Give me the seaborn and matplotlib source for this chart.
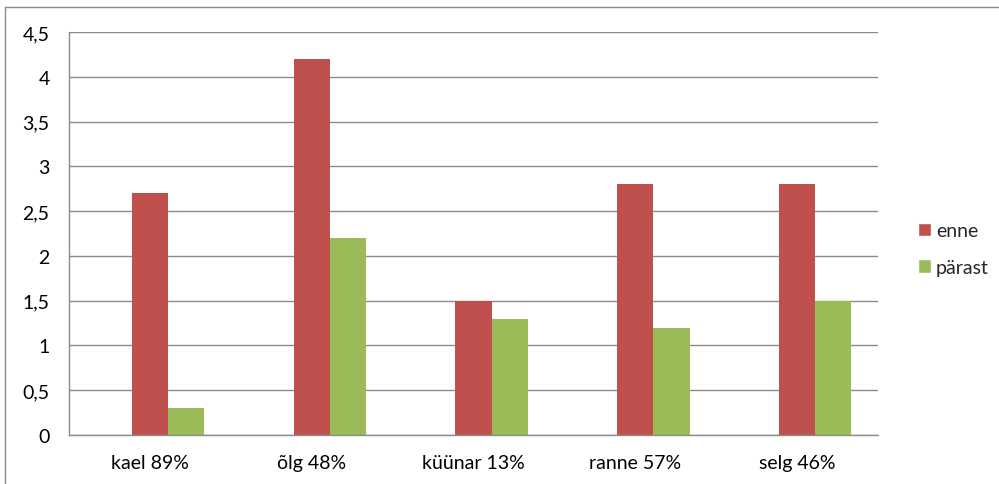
import pandas as pd
import matplotlib.pyplot as plt
import seaborn as sns
from matplotlib.lines import Line2D
from matplotlib.patches import Patch
from matplotlib.ticker import FuncFormatter, FixedLocator

# --- DATA ---
categories = ["kael 89%", "õlg 48%", "küünar 13%", "ranne 57%", "selg 46%"]
enne = [2.7, 4.2, 1.5, 2.8, 2.8]
parast = [0.3, 2.2, 1.3, 1.2, 1.5]
yticks = [0, 0.5, 1, 1.5, 2, 2.5, 3, 3.5, 4, 4.5]

red = "#C0504D"
green = "#9BBB59"
grid_col = "#8C8C8C"

df = pd.DataFrame({
    "kategooria": categories * 2,
    "vaartus": enne + parast,
    "seeria": ["enne"] * len(categories) + ["pärast"] * len(categories),
})

sns.set_style("white")
plt.rcParams["font.family"] = ["Lato", "DejaVu Sans"]

fig = plt.figure(figsize=(9.99, 4.85), dpi=100)
ax = fig.add_axes([69 / 999, 49 / 485, (878 - 69) / 999, (436 - 33) / 485])

# empty first series keeps the Excel-style offset of the bars
sns.barplot(
    data=df, x="kategooria", y="vaartus", hue="seeria",
    hue_order=["_tühi", "enne", "pärast"], order=categories,
    palette={"_tühi": "white", "enne": red, "pärast": green},
    width=0.67, linewidth=0, saturation=1, errorbar=None, legend=False, ax=ax,
)

ax.set_xlim(-0.5, len(categories) - 0.5)
ax.set_ylim(0, 4.5)
ax.set_yticks(yticks)
ax.yaxis.set_major_formatter(FuncFormatter(lambda v, p: f"{v:g}".replace(".", ",")))
ax.yaxis.grid(True, color=grid_col, linewidth=1)
ax.set_axisbelow(True)
ax.set_xlabel("")
ax.set_ylabel("")

ax.xaxis.set_minor_locator(FixedLocator([i + 0.5 for i in range(-1, len(categories))]))
ax.tick_params(axis="x", which="major", length=0, pad=14, labelsize=14, colors="black")
ax.tick_params(axis="x", which="minor", length=6, width=1, color=grid_col, direction="out")
ax.tick_params(axis="y", length=6, width=1, color=grid_col, direction="out", pad=8,
               labelsize=14, colors="black")

for side in ["top", "right"]:
    ax.spines[side].set_visible(False)
for side in ["left", "bottom"]:
    ax.spines[side].set_color(grid_col)
    ax.spines[side].set_linewidth(1)

handles = [Patch(facecolor=red, label="enne"), Patch(facecolor=green, label="pärast")]
fig.legend(handles=handles, loc="center left", bbox_to_anchor=(900 / 999, 1 - 250 / 485),
           frameon=False, fontsize=14, handlelength=0.7, handleheight=0.7,
           handletextpad=0.25, labelspacing=1.0)

# chart frame (top and left edges visible)
fig.add_artist(Line2D([5 / 999, 1], [1 - 8 / 485, 1 - 8 / 485], color=grid_col, linewidth=1))
fig.add_artist(Line2D([5 / 999, 5 / 999], [0, 1 - 8 / 485], color=grid_col, linewidth=1))

fig.savefig("out.png", dpi=100)
